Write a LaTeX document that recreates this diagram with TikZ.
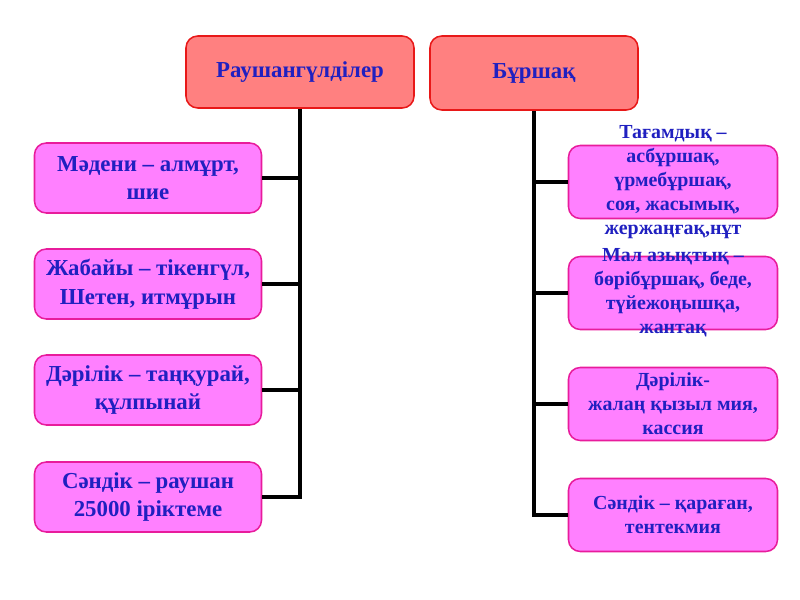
\documentclass[tikz,border=0pt]{standalone}
\usepackage{fontspec}
\setmainfont{Liberation Serif}
\definecolor{headfill}{HTML}{FF8080}
\definecolor{headline}{HTML}{E81818}
\definecolor{itemfill}{HTML}{FF80FF}
\definecolor{itemline}{HTML}{E81C9C}
\definecolor{txtblue}{HTML}{2020C0}
\tikzset{
  head/.style={draw=headline, fill=headfill, line width=1.3pt, rounded corners=10pt,
    minimum width=6.6cm, minimum height=2.16cm, text=txtblue,
    font=\bfseries\fontsize{19.5}{24}\selectfont},
  item/.style={draw=itemline, fill=itemfill, line width=1.3pt, rounded corners=10pt,
    minimum width=6.81cm, minimum height=2.1cm, text=txtblue, align=center,
    font=\bfseries\fontsize{19.5}{24.5}\selectfont},
  ritem/.style={item, minimum width=6.27cm, minimum height=2.19cm},
  rtext/.style={text=txtblue, align=center, inner sep=0pt,
    font=\bfseries\fontsize{17}{20.5}\selectfont},
  link/.style={line width=2.8pt}
}
\begin{document}
\begin{tikzpicture}[x=0.03cm,y=-0.03cm]
  \useasboundingbox (0,0) rectangle (800,600);

  %Nodes
  \node[head, minimum width=6.84cm] at (300,72) (L) {Раушангүлділер};
  \node[head, minimum width=6.24cm, minimum height=2.22cm] at (534,73) (R) {Бұршақ};

  \node[item] at (148,178) (L1) {Мәдени – алмұрт,\\шие};
  \node[item] at (148,284) (L2) {Жабайы – тікенгүл,\\Шетен, итмұрын};
  \node[item] at (148,390) (L3) {Дәрілік – таңқурай,\\құлпынай};
  \node[item] at (148,497) (L4) {Сәндік – раушан\\25000 іріктеме};

  \node[ritem] at (673,182) (R1) {};
  \node[ritem] at (673,293) (R2) {};
  \node[ritem] at (673,404) (R3) {};
  \node[ritem] at (673,515) (R4) {};

  %Lines
  \draw[link] (L.south) |- (L4.east);
  \draw[link] (L1.east) -- (L1 -| L.south);
  \draw[link] (L2.east) -- (L2 -| L.south);
  \draw[link] (L3.east) -- (L3 -| L.south);
  \draw[link] (R.south) |- (R4.west);
  \draw[link] (R1.west) -- (R1 -| R.south);
  \draw[link] (R2.west) -- (R2 -| R.south);
  \draw[link] (R3.west) -- (R3 -| R.south);

  %Texts
  \node[rtext] at (R1) (R1t) {Тағамдық –\\асбұршақ,\\үрмебұршақ,\\соя, жасымық,\\жержаңғақ,нұт};
  \node[rtext] at (R2) (R2t) {Мал азықтық –\\бөрібұршақ, беде,\\түйежоңышқа,\\жантақ};
  \node[rtext] at (R3) (R3t) {Дәрілік-\\жалаң қызыл мия,\\кассия};
  \node[rtext] at (R4) (R4t) {Сәндік – қараған,\\тентекмия};
\end{tikzpicture}
\end{document}
